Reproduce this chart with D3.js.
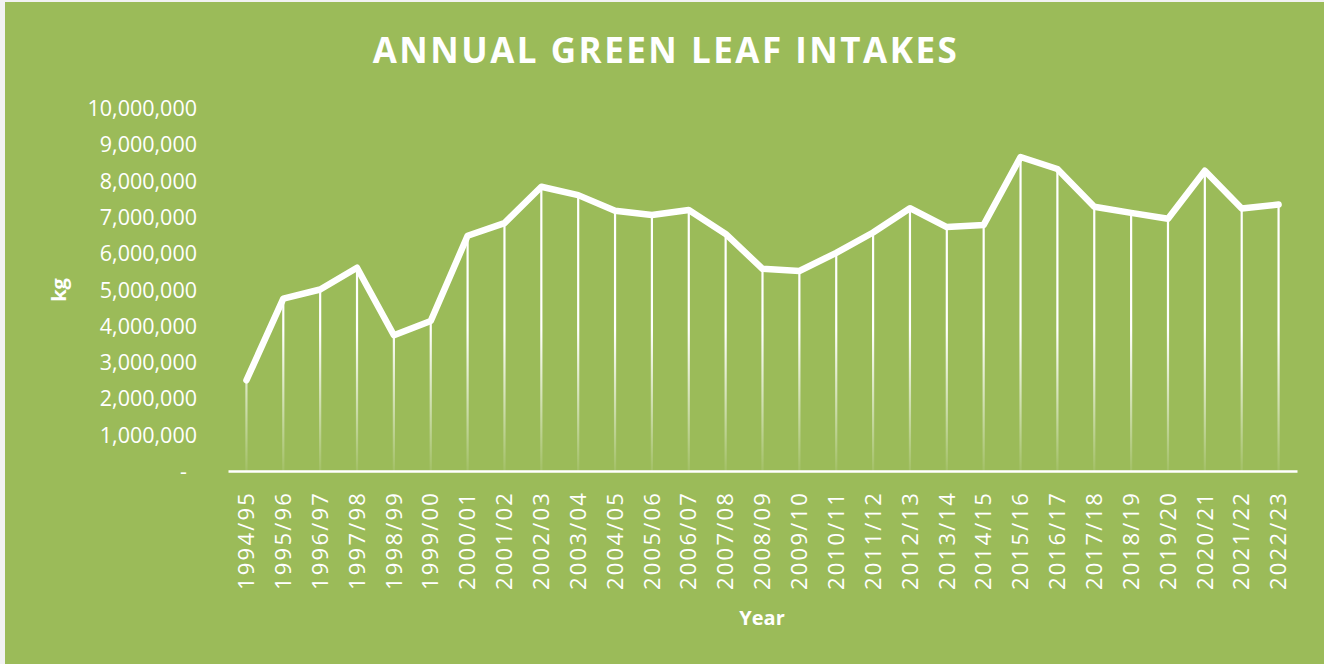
<!DOCTYPE html>
<html>
<head>
<meta charset="utf-8">
<script src="https://cdn.jsdelivr.net/npm/d3@7"></script>
<style>
  html, body { margin: 0; padding: 0; background: #ffffff; }
  svg { display: block; }
</style>
</head>
<body>
<svg id="chart" width="1324" height="664"></svg>
<script>
// Crop seasons
const seasons = [
  "1994/95","1995/96","1996/97","1997/98","1998/99","1999/00","2000/01","2001/02",
  "2002/03","2003/04","2004/05","2005/06","2006/07","2007/08","2008/09","2009/10",
  "2010/11","2011/12","2012/13","2013/14","2014/15","2015/16","2016/17","2017/18",
  "2018/19","2019/20","2020/21","2021/22","2022/23"
];

// Green leaf intake per season, kg
const intakes = [
  2500000, 4750000, 5000000, 5600000, 3740000, 4130000, 6480000, 6830000,
  7830000, 7600000, 7170000, 7050000, 7190000, 6530000, 5570000, 5510000,
  6010000, 6570000, 7240000, 6720000, 6780000, 8650000, 8320000, 7280000,
  7110000, 6950000, 8270000, 7230000, 7340000
];

// Value-axis ticks
const yTicks = [0, 1000000, 2000000, 3000000, 4000000, 5000000,
                6000000, 7000000, 8000000, 9000000, 10000000];

const W = 1324, H = 664;
const bg = "#9BBB59";
const font = "'Open Sans', 'Liberation Sans', sans-serif";

const svg = d3.select("#chart");

// Chart area background with the thin light frame on the top and left
svg.append("rect").attr("x", 0).attr("y", 0).attr("width", W).attr("height", H).attr("fill", "#f2f2f2");
svg.append("rect").attr("x", 5).attr("y", 2).attr("width", W - 5).attr("height", H - 2).attr("fill", bg);

const plot = { left: 228, right: 1297, top: 108, bottom: 471 };

const x = d3.scaleBand().domain(seasons).range([plot.left, plot.right]).paddingInner(0).paddingOuter(0);
const y = d3.scaleLinear().domain([0, 10000000]).range([plot.bottom, plot.top]);
const cx = d => x(d) + x.bandwidth() / 2;

// Fading white for the drop lines
const defs = svg.append("defs");
const grad = defs.append("linearGradient")
  .attr("id", "dropFade")
  .attr("gradientUnits", "userSpaceOnUse")
  .attr("x1", 0).attr("x2", 0)
  .attr("y1", 330).attr("y2", plot.bottom);
grad.append("stop").attr("offset", 0).attr("stop-color", "#ffffff").attr("stop-opacity", 1);
grad.append("stop").attr("offset", 1).attr("stop-color", "#ffffff").attr("stop-opacity", 0.08);

// Title
svg.append("text")
  .attr("x", 666).attr("y", 63)
  .attr("text-anchor", "middle")
  .attr("fill", "#ffffff")
  .attr("font-family", font)
  .attr("font-weight", 700)
  .attr("font-size", 35)
  .attr("letter-spacing", 2.5)
  .text("ANNUAL GREEN LEAF INTAKES");

// Value axis labels (accounting style: zero shown as a dash)
const fmt = d3.format(",");
const yAxis = d3.axisLeft(y)
  .tickValues(yTicks)
  .tickSize(0)
  .tickPadding(0)
  .tickFormat(d => d === 0 ? "-" : fmt(d));
const yG = svg.append("g").attr("transform", `translate(${197},0)`).call(yAxis);
yG.select(".domain").remove();
yG.selectAll("text")
  .attr("fill", "#ffffff")
  .attr("font-family", font)
  .attr("font-size", 21.5)
  .attr("dy", "0.35em")
  .attr("dx", d => d === 0 ? -10 : 0);

// Drop lines from each point to the axis
svg.append("g").selectAll("line")
  .data(seasons)
  .join("line")
  .attr("x1", d => cx(d)).attr("x2", d => cx(d))
  .attr("y1", (d, i) => y(intakes[i]))
  .attr("y2", plot.bottom)
  .attr("stroke", "url(#dropFade)")
  .attr("stroke-width", 2.2);

// Category axis
const xAxis = d3.axisBottom(x).tickSize(0).tickPadding(0);
const xG = svg.append("g").attr("transform", `translate(0,${plot.bottom})`).call(xAxis);
xG.select(".domain")
  .attr("stroke", "#ffffff")
  .attr("stroke-width", 2.5);
xG.selectAll("text")
  .attr("fill", "#ffffff")
  .attr("font-family", font)
  .attr("font-size", 22)
  .attr("letter-spacing", 2.2)
  .attr("text-anchor", "end")
  .attr("transform", "rotate(-90)")
  .attr("x", -20)
  .attr("y", 0)
  .attr("dy", "0.35em");

// Intake line
const line = d3.line()
  .x((d, i) => cx(seasons[i]))
  .y(d => y(d));
svg.append("path")
  .datum(intakes)
  .attr("d", line)
  .attr("fill", "none")
  .attr("stroke", "#ffffff")
  .attr("stroke-width", 6.5)
  .attr("stroke-linejoin", "round")
  .attr("stroke-linecap", "round");

// Axis titles
svg.append("text")
  .attr("x", 762).attr("y", 625)
  .attr("text-anchor", "middle")
  .attr("fill", "#ffffff")
  .attr("font-family", font)
  .attr("font-weight", 700)
  .attr("font-size", 20)
  .text("Year");

svg.append("text")
  .attr("transform", "translate(66,290) rotate(-90)")
  .attr("text-anchor", "middle")
  .attr("fill", "#ffffff")
  .attr("font-family", font)
  .attr("font-weight", 700)
  .attr("font-size", 20)
  .text("kg");
</script>
</body>
</html>
